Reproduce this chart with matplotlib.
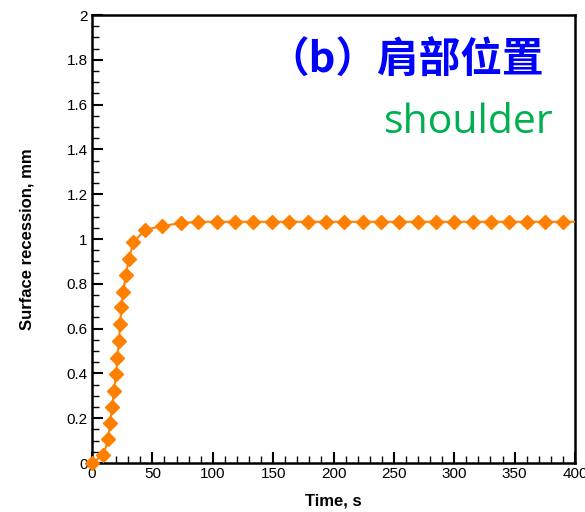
import matplotlib.pyplot as plt
from matplotlib.ticker import MultipleLocator, FormatStrFormatter

# recession history at the shoulder location
time_s = [0, 9.4, 13.5, 14.9, 16.8, 18.2, 19.9, 21.0, 22.4, 23.2, 24.3, 25.9,
          27.9, 30.6, 34.2, 43.9, 58.2, 73.4, 88.0, 103.3, 118.4, 133.6, 148.8,
          163.4, 178.6, 193.8, 209.0, 224.2, 239.3, 254.5, 269.7, 284.9, 300.0,
          315.2, 330.4, 345.6, 360.0, 375.2, 390.3, 400.0]
recession_mm = [0, 0.036, 0.107, 0.177, 0.249, 0.323, 0.396, 0.470, 0.543,
                0.619, 0.695, 0.765, 0.839, 0.911, 0.985, 1.040, 1.059, 1.070,
                1.077, 1.077, 1.077, 1.077, 1.077, 1.077, 1.077, 1.077, 1.077,
                1.077, 1.077, 1.077, 1.077, 1.077, 1.077, 1.077, 1.077, 1.077,
                1.077, 1.077, 1.077, 1.077]

title_cn = "（b）肩部位置"
title_en = "shoulder"

plt.rcParams["font.family"] = ["Liberation Sans", "DejaVu Sans"]

fig = plt.figure(figsize=(5.85, 5.12), dpi=100)
ax = fig.add_axes([0.1573, 0.0957, 0.8256, 0.875])

orange = "#FF8000"
ax.plot(time_s, recession_mm, color=orange, lw=1.5, zorder=3)
ax.plot(time_s[:-1], recession_mm[:-1], ls="none", marker="D", ms=7.2,
        color=orange, mec=orange, zorder=4, clip_on=False)

ax.set_xlim(0, 400)
ax.set_ylim(0, 2)
ax.xaxis.set_major_locator(MultipleLocator(50))
ax.xaxis.set_minor_locator(MultipleLocator(10))
ax.yaxis.set_major_locator(MultipleLocator(0.2))
ax.yaxis.set_minor_locator(MultipleLocator(0.05))
ax.yaxis.set_major_formatter(FormatStrFormatter("%g"))

ax.tick_params(which="both", direction="in", top=False, right=False,
               labelsize=11, width=1.5)
ax.tick_params(which="major", length=8, pad=3)
ax.tick_params(which="minor", length=5, width=1)
for sp in ax.spines.values():
    sp.set_linewidth(1.8)

ax.set_xlabel("Time, s", fontsize=12, fontweight="bold", labelpad=9)
ax.set_ylabel("Surface recession, mm", fontsize=12, fontweight="bold", labelpad=23)

ax.text(0.935, 0.898, title_cn, transform=ax.transAxes, ha="right", va="center",
        fontsize=30, fontweight="bold", color="#0000FF",
        family=["Noto Sans CJK SC", "DejaVu Sans"])
ax.text(0.955, 0.76, title_en, transform=ax.transAxes, ha="right", va="center",
        fontsize=29.5, color="#00B050", family=["Open Sans", "DejaVu Sans"])

fig.savefig("out.png", dpi=100)
